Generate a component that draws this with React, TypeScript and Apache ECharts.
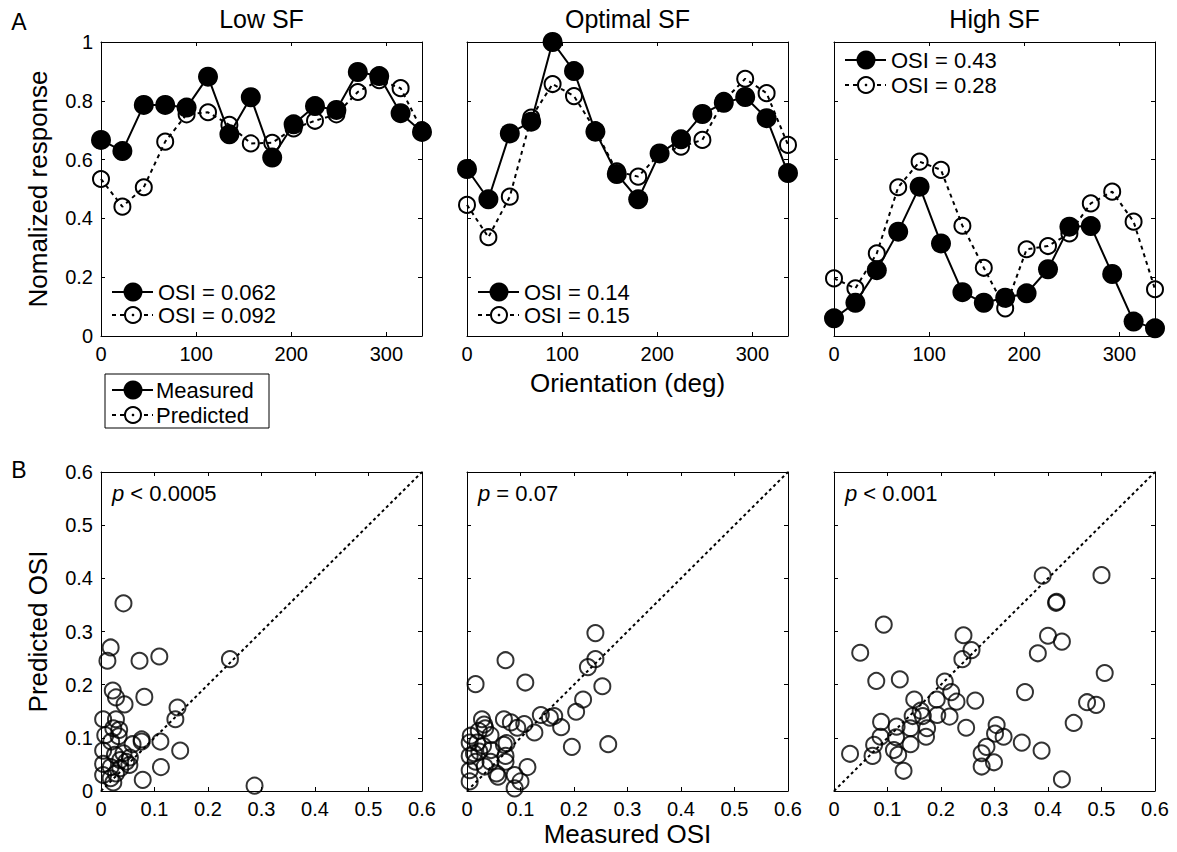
import React, { useEffect, useRef } from 'react';
import * as echarts from 'echarts';

const FONT = "'Liberation Sans', Arial, Helvetica, sans-serif";

// ---------- data ----------
const orientations = [0, 22.5, 45, 67.5, 90, 112.5, 135, 157.5, 180, 202.5, 225, 247.5, 270, 292.5, 315, 337.5];

const lowMeasured = [0.667, 0.629, 0.786, 0.786, 0.777, 0.882, 0.686, 0.812, 0.607, 0.72, 0.782, 0.769, 0.898, 0.884, 0.758, 0.694];
const lowPredicted = [0.534, 0.44, 0.506, 0.661, 0.754, 0.761, 0.718, 0.655, 0.657, 0.706, 0.732, 0.754, 0.83, 0.87, 0.843, 0.7];

const optMeasured = [0.568, 0.465, 0.689, 0.729, 1.0, 0.901, 0.695, 0.551, 0.465, 0.621, 0.669, 0.755, 0.793, 0.813, 0.741, 0.554];
const optPredicted = [0.446, 0.336, 0.474, 0.743, 0.857, 0.816, 0.7, 0.56, 0.542, 0.62, 0.644, 0.667, 0.8, 0.875, 0.826, 0.65];

const highMeasured = [0.06, 0.113, 0.224, 0.355, 0.508, 0.315, 0.149, 0.113, 0.13, 0.145, 0.227, 0.372, 0.374, 0.211, 0.049, 0.026];
const highPredicted = [0.196, 0.162, 0.281, 0.506, 0.593, 0.565, 0.375, 0.232, 0.094, 0.295, 0.306, 0.349, 0.451, 0.491, 0.389, 0.159];

const lowScatter = [
  [0.042, 0.353], [0.018, 0.27], [0.012, 0.245], [0.072, 0.245], [0.109, 0.253], [0.241, 0.248],
  [0.022, 0.189], [0.028, 0.176], [0.044, 0.163], [0.081, 0.177], [0.143, 0.157], [0.139, 0.135],
  [0.004, 0.135], [0.028, 0.135], [0.023, 0.118], [0.034, 0.115], [0.008, 0.105], [0.033, 0.103],
  [0.019, 0.093], [0.076, 0.097], [0.076, 0.093], [0.059, 0.088], [0.111, 0.093], [0.004, 0.076],
  [0.148, 0.076], [0.026, 0.068], [0.042, 0.071], [0.054, 0.063], [0.036, 0.058], [0.047, 0.055],
  [0.004, 0.051], [0.018, 0.045], [0.036, 0.043], [0.053, 0.049], [0.112, 0.045], [0.004, 0.03],
  [0.018, 0.024], [0.023, 0.016], [0.028, 0.033], [0.078, 0.021], [0.287, 0.01],
];

const optScatter = [
  [0.24, 0.297], [0.24, 0.248], [0.226, 0.233], [0.253, 0.197], [0.072, 0.246], [0.016, 0.201],
  [0.109, 0.204], [0.217, 0.172], [0.204, 0.149], [0.138, 0.143], [0.155, 0.138], [0.163, 0.141],
  [0.176, 0.12], [0.069, 0.135], [0.082, 0.129], [0.094, 0.119], [0.107, 0.126], [0.126, 0.11],
  [0.028, 0.135], [0.032, 0.125], [0.034, 0.118], [0.022, 0.113], [0.044, 0.105], [0.007, 0.104],
  [0.005, 0.091], [0.019, 0.091], [0.03, 0.085], [0.196, 0.083], [0.264, 0.088], [0.069, 0.087],
  [0.074, 0.09], [0.005, 0.066], [0.023, 0.074], [0.045, 0.077], [0.016, 0.055], [0.044, 0.055],
  [0.072, 0.066], [0.072, 0.055], [0.005, 0.039], [0.055, 0.033], [0.058, 0.027], [0.089, 0.03],
  [0.113, 0.045], [0.1, 0.018], [0.089, 0.005], [0.005, 0.018], [0.013, 0.071], [0.033, 0.046],
];

const highScatter = [
  [0.39, 0.405], [0.416, 0.356], [0.415, 0.354], [0.4, 0.292], [0.426, 0.281], [0.381, 0.259],
  [0.242, 0.293], [0.257, 0.265], [0.24, 0.248], [0.093, 0.313], [0.049, 0.26], [0.079, 0.207],
  [0.123, 0.21], [0.207, 0.206], [0.219, 0.186], [0.229, 0.168], [0.264, 0.17], [0.192, 0.172],
  [0.15, 0.172], [0.357, 0.186], [0.162, 0.151], [0.166, 0.141], [0.147, 0.141], [0.193, 0.143],
  [0.216, 0.14], [0.088, 0.13], [0.117, 0.121], [0.143, 0.118], [0.174, 0.118], [0.172, 0.102],
  [0.087, 0.102], [0.116, 0.101], [0.247, 0.119], [0.304, 0.124], [0.301, 0.108], [0.317, 0.102],
  [0.351, 0.091], [0.388, 0.076], [0.285, 0.083], [0.276, 0.071], [0.075, 0.087], [0.143, 0.088],
  [0.112, 0.077], [0.12, 0.068], [0.072, 0.066], [0.03, 0.07], [0.13, 0.038], [0.276, 0.046],
  [0.299, 0.054], [0.426, 0.022], [0.5, 0.406], [0.506, 0.222], [0.49, 0.162], [0.473, 0.167],
  [0.448, 0.128],
];

const diagonal = [[0, 0], [0.6, 0.6]];

const panelTitles = ['Low SF', 'Optimal SF', 'High SF'];
const osiMeasured = ['0.062', '0.14', '0.43'];
const osiPredicted = ['0.092', '0.15', '0.28'];
const pTexts = ['< 0.0005', '= 0.07', '< 0.001'];
const legendNames = ['Measured', 'Predicted'];

// ---------- layout ----------
const PANEL_LEFT = [101, 467, 834];
const PANEL_W = 321;
const TOP_Y = 42;
const TOP_H = 294;
const BOT_Y = 472;
const BOT_H = 319;

const BLACK = '#000';

function App() {
  const ref = useRef<HTMLDivElement>(null);

  useEffect(() => {
    if (!ref.current) return;
    const chart = echarts.init(ref.current, undefined, { renderer: 'svg' });

    const grids: any[] = [];
    const xAxes: any[] = [];
    const yAxes: any[] = [];
    const series: any[] = [];

    const tickStyle = { show: true, inside: true, length: 4, lineStyle: { color: BLACK, width: 1 } };
    const lineStyle = { show: true, onZero: false, lineStyle: { color: BLACK, width: 1 } };
    const labelStyle = { color: BLACK, fontSize: 20, fontFamily: FONT, margin: 8 };

    const addPanel = (gi: number, left: number, top: number, height: number, xr: any, yr: any, showY: boolean) => {
      grids.push({ left, top, width: PANEL_W, height, containLabel: false });
      xAxes.push({
        type: 'value', gridIndex: gi, position: 'bottom', min: xr.min, max: xr.max, interval: xr.interval,
        axisLine: lineStyle, axisTick: tickStyle, splitLine: { show: false },
        axisLabel: { ...labelStyle, showMaxLabel: xr.showMax, formatter: xr.fmt },
      });
      xAxes.push({
        type: 'value', gridIndex: gi, position: 'top', min: xr.min, max: xr.max, interval: xr.interval,
        axisLine: lineStyle, axisTick: tickStyle, splitLine: { show: false }, axisLabel: { show: false },
      });
      yAxes.push({
        type: 'value', gridIndex: gi, position: 'left', min: yr.min, max: yr.max, interval: yr.interval,
        axisLine: lineStyle, axisTick: tickStyle, splitLine: { show: false },
        axisLabel: { ...labelStyle, show: showY, formatter: yr.fmt },
      });
      yAxes.push({
        type: 'value', gridIndex: gi, position: 'right', min: yr.min, max: yr.max, interval: yr.interval,
        axisLine: lineStyle, axisTick: tickStyle, splitLine: { show: false }, axisLabel: { show: false },
      });
    };

    const orientX = { min: 0, max: 337.5, interval: 100, showMax: false, fmt: (v: number) => (v % 100 === 0 ? String(v) : '') };
    const respY = { min: 0, max: 1, interval: 0.2, fmt: (v: number) => String(Math.round(v * 10) / 10) };
    const osiX = { min: 0, max: 0.6, interval: 0.1, showMax: true, fmt: (v: number) => String(Math.round(v * 10) / 10) };
    const osiY = { min: 0, max: 0.6, interval: 0.1, fmt: (v: number) => String(Math.round(v * 10) / 10) };

    const tuning = [
      [lowMeasured, lowPredicted],
      [optMeasured, optPredicted],
      [highMeasured, highPredicted],
    ];
    const scatters = [lowScatter, optScatter, highScatter];

    for (let i = 0; i < 3; i++) {
      addPanel(i, PANEL_LEFT[i], TOP_Y, TOP_H, orientX, respY, i === 0);
      const [m, p] = tuning[i];
      series.push({
        type: 'line', xAxisIndex: 2 * i, yAxisIndex: 2 * i,
        data: orientations.map((o, k) => [o, m[k]]),
        symbol: 'circle', symbolSize: 20,
        itemStyle: { color: BLACK },
        lineStyle: { color: BLACK, width: 2 },
        z: 3,
      });
      series.push({
        type: 'line', xAxisIndex: 2 * i, yAxisIndex: 2 * i,
        data: orientations.map((o, k) => [o, p[k]]),
        symbol: 'circle', symbolSize: 16,
        itemStyle: { color: 'rgba(0,0,0,0)', borderColor: BLACK, borderWidth: 2 },
        lineStyle: { color: BLACK, width: 2, type: [4, 4] },
        z: 2,
      });
    }
    for (let i = 0; i < 3; i++) {
      const gi = 3 + i;
      addPanel(gi, PANEL_LEFT[i], BOT_Y, BOT_H, osiX, osiY, i === 0);
      series.push({
        type: 'line', xAxisIndex: 2 * gi, yAxisIndex: 2 * gi,
        data: diagonal, symbol: 'none',
        lineStyle: { color: BLACK, width: 2, type: [3, 3] },
      });
      series.push({
        type: 'scatter', xAxisIndex: 2 * gi, yAxisIndex: 2 * gi,
        data: scatters[i], symbol: 'circle', symbolSize: 16,
        itemStyle: { color: 'rgba(0,0,0,0)', borderColor: BLACK, borderWidth: 2 },
      });
    }

    const txt = (x: number, y: number, text: string, size: number, align = 'left', extra: any = {}) => ({
      type: 'text', x, y, ...extra,
      style: {
        text, fontSize: size, fontFamily: FONT, fill: BLACK,
        textAlign: align, textVerticalAlign: 'middle', align, verticalAlign: 'middle',
      },
    });

    const graphics: any[] = [];
    // panel letters
    graphics.push(txt(19, 22, 'A', 23, 'center'));
    graphics.push(txt(19, 470, 'B', 23, 'center'));
    // titles
    for (let i = 0; i < 3; i++) {
      graphics.push(txt(PANEL_LEFT[i] + PANEL_W / 2, 19, panelTitles[i], 25, 'center'));
    }
    // axis names
    graphics.push(txt(38, TOP_Y + TOP_H / 2, 'Nomalized response', 26, 'center', { rotation: Math.PI / 2 }));
    graphics.push(txt(38, BOT_Y + BOT_H / 2, 'Predicted OSI', 26, 'center', { rotation: Math.PI / 2 }));
    graphics.push(txt(PANEL_LEFT[1] + PANEL_W / 2, 383, 'Orientation (deg)', 26, 'center'));
    graphics.push(txt(PANEL_LEFT[1] + PANEL_W / 2, 834, 'Measured OSI', 26, 'center'));

    const legendRows = (left: number, y1: number, y2: number, t1: string, t2: string, textOff: number, size: number) => {
      const cx = left + 32;
      return [
        { type: 'line', shape: { x1: left + 11, y1, x2: left + 52, y2: y1 }, style: { stroke: BLACK, lineWidth: 2 } },
        { type: 'circle', shape: { cx, cy: y1, r: 9.5 }, style: { fill: BLACK } },
        txt(left + textOff, y1, t1, size),
        { type: 'line', shape: { x1: left + 11, y1: y2, x2: left + 52, y2 }, style: { stroke: BLACK, lineWidth: 2, lineDash: [4, 4] } },
        { type: 'circle', shape: { cx, cy: y2, r: 8 }, style: { fill: '#fff', stroke: BLACK, lineWidth: 2 } },
        { type: 'circle', shape: { cx, cy: y2, r: 1.3 }, style: { fill: BLACK } },
        txt(left + textOff, y2, t2, size),
      ];
    };

    // OSI legends in top panels
    const osiRowsY = [[292, 315], [292, 315], [60, 85]];
    for (let i = 0; i < 3; i++) {
      graphics.push(...legendRows(PANEL_LEFT[i], osiRowsY[i][0], osiRowsY[i][1],
        'OSI = ' + osiMeasured[i], 'OSI = ' + osiPredicted[i], 57, 22));
    }

    // measured/predicted legend box
    graphics.push({ type: 'rect', shape: { x: 105, y: 374, width: 164, height: 54 }, style: { fill: '#fff', stroke: BLACK, lineWidth: 1 } });
    graphics.push(...legendRows(101, 390, 415, legendNames[0], legendNames[1], 55, 22));

    // p-values
    for (let i = 0; i < 3; i++) {
      graphics.push({
        type: 'text', x: PANEL_LEFT[i] + 11, y: 493,
        style: {
          text: '{i|p} ' + pTexts[i],
          fontSize: 22, fontFamily: FONT, fill: BLACK,
          textVerticalAlign: 'middle', verticalAlign: 'middle',
          rich: { i: { fontStyle: 'italic', fontSize: 22, fontFamily: FONT, fill: BLACK, color: BLACK } },
        },
      });
    }

    chart.setOption({
      animation: false,
      backgroundColor: '#fff',
      grid: grids,
      xAxis: xAxes,
      yAxis: yAxes,
      series,
      graphic: graphics,
    });

    return () => chart.dispose();
  }, []);

  return <div ref={ref} style={{ position: 'fixed', left: 0, top: 0, width: 1177, height: 852 }} />;
}

export default App;
